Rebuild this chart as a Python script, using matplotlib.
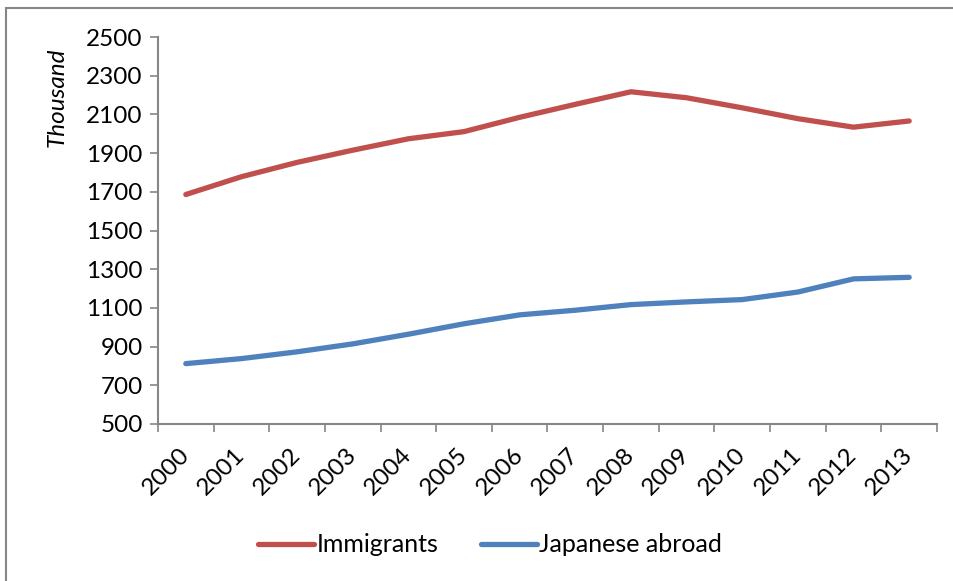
import matplotlib.pyplot as plt
from matplotlib.patches import Rectangle
import numpy as np

# Data (thousand persons)
years = ["2000", "2001", "2002", "2003", "2004", "2005", "2006",
         "2007", "2008", "2009", "2010", "2011", "2012", "2013"]
immigrants = [1686, 1778, 1852, 1915, 1974, 2011, 2085,
              2152, 2217, 2186, 2134, 2078, 2034, 2066]
japanese_abroad = [812, 838, 873, 914, 964, 1018, 1064,
                   1088, 1117, 1131, 1143, 1182, 1250, 1258]

RED = "#C0504D"
BLUE = "#4F81BD"
GRAY = "#868686"
FS = 17.5

plt.rcParams["font.family"] = ["Lato", "DejaVu Sans"]

fig = plt.figure(figsize=(9.54, 5.81), dpi=100)
W, H = 954, 581

# outer chart border (cropped on right/bottom)
fig.patches.append(Rectangle((6 / W, -0.1), 1.2, (H - 8) / H + 0.1,
                             transform=fig.transFigure, fill=False,
                             edgecolor=GRAY, linewidth=1.5))

ax = fig.add_axes([158 / W, 1 - 424 / H, (937 - 158) / W, (424 - 37) / H])

x = np.arange(len(years))
ax.plot(x, immigrants, color=RED, linewidth=3.8, solid_capstyle="round",
        label="Immigrants")
ax.plot(x, japanese_abroad, color=BLUE, linewidth=3.8, solid_capstyle="round",
        label="Japanese abroad")

ax.set_xlim(-0.5, len(years) - 0.5)
ax.set_ylim(500, 2500)
ax.set_yticks(np.arange(500, 2501, 200))

# category ticks between categories, labels under centers
ax.set_xticks(np.arange(-0.5, len(years), 1.0), minor=True)
ax.set_xticks(x)
ax.tick_params(axis="x", which="minor", length=6, width=1.2, color=GRAY,
               direction="out")
ax.tick_params(axis="x", which="major", length=0, pad=20)
ax.set_xticklabels(years, rotation=45, ha="right", va="center",
                   rotation_mode="anchor", fontsize=FS)
ax.tick_params(axis="y", length=6, width=1.2, color=GRAY, labelsize=FS, pad=5)

for side in ["top", "right"]:
    ax.spines[side].set_visible(False)
for side in ["left", "bottom"]:
    ax.spines[side].set_color(GRAY)
    ax.spines[side].set_linewidth(1.5)

fig.text(57 / W, 1 - 97 / H, "Thousand", rotation=90, style="italic",
         fontsize=FS, ha="center", va="center")

fig.legend(loc="center", bbox_to_anchor=(490 / W, 1 - 545 / H), ncol=2,
           frameon=False, fontsize=FS + 0.5, handlelength=2.25,
           handletextpad=0.1, columnspacing=1.7)

fig.savefig("out.png", dpi=100)
